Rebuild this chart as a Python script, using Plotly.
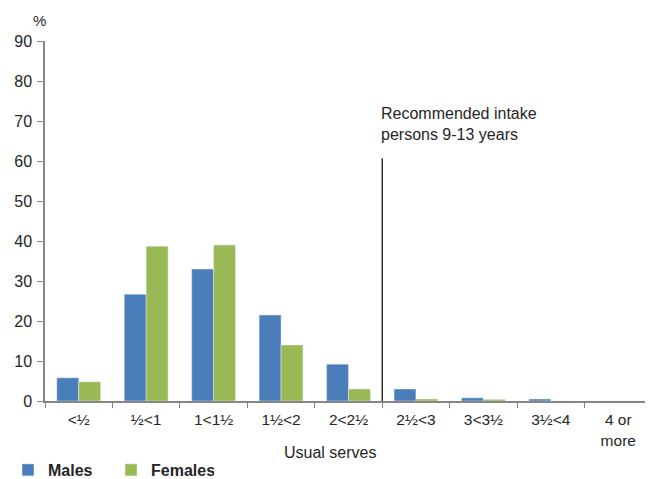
import plotly.graph_objects as go

categories = ["<½", "½<1", "1<1½", "1½<2", "2<2½", "2½<3", "3<3½", "3½<4", "4 or<br>more"]
males = [5.8, 26.7, 33.0, 21.5, 9.2, 3.0, 0.8, 0.5, 0.0]
females = [4.8, 38.7, 39.0, 14.0, 3.0, 0.5, 0.4, 0.0, 0.0]
y_ticks = [0, 10, 20, 30, 40, 50, 60, 70, 80, 90]
recommend_boundary = 4.5
recommend_top = 60.7
recommend_text = "Recommended intake<br>persons 9-13 years"

font_family = "Liberation Sans, Arial, sans-serif"
axis_color = "#868686"
text_color = "#262626"

W, H = 645, 471  # page body has an 8px margin inside the 653x479 window

fig = go.Figure()
fig.add_trace(go.Bar(x=categories, y=males, name="<b>Males</b>", marker_color="#4A7EBB"))
fig.add_trace(go.Bar(x=categories, y=females, name="<b>Females</b>", marker_color="#98B954"))

fig.add_shape(type="line", xref="x", yref="y", x0=recommend_boundary, x1=recommend_boundary,
              y0=0, y1=recommend_top, line=dict(color="black", width=1.2))
fig.add_annotation(xref="x", yref="y", x=recommend_boundary - 0.05, y=recommend_top + 3.3,
                   text=recommend_text, showarrow=False, xanchor="left", yanchor="bottom",
                   align="left", font=dict(size=16, color=text_color, family=font_family))
fig.add_annotation(xref="paper", yref="paper", x=0.0, y=1.0, yshift=10, xshift=3, text="%",
                   showarrow=False, xanchor="right", yanchor="bottom",
                   font=dict(size=15, color=text_color, family=font_family))
fig.add_annotation(xref="paper", yref="paper", x=0.47, y=0.0, yshift=-51, text="Usual serves",
                   showarrow=False, xanchor="center", yanchor="middle",
                   font=dict(size=16, color=text_color, family=font_family))

fig.update_layout(
    width=W, height=H,
    margin=dict(l=37, r=1, t=33, b=78, autoexpand=False),
    paper_bgcolor="white", plot_bgcolor="white",
    barmode="group", bargap=0.35, bargroupgap=0,
    font=dict(family=font_family, color=text_color, size=15),
    showlegend=True,
    legend=dict(orientation="h", xref="container", yref="container",
                x=0.0, y=9 / H, xanchor="left", yanchor="middle",
                font=dict(size=16, color=text_color, family=font_family),
                itemwidth=30, traceorder="normal", entrywidth=58, bgcolor="rgba(0,0,0,0)"),
    xaxis=dict(
        showline=True, linecolor=axis_color, linewidth=1.5,
        ticks="outside", tickson="boundaries", ticklen=5, tickcolor=axis_color,
        showgrid=False, tickfont=dict(size=15.5, color=text_color), automargin=False,
        ticklabelstandoff=4,
    ),
    yaxis=dict(
        range=[0, 90], tickvals=y_ticks, showline=True, linecolor=axis_color, linewidth=1.5,
        ticks="outside", ticklen=6, tickcolor=axis_color, showgrid=False, zeroline=False,
        tickfont=dict(size=16, color=text_color), automargin=False, ticklabelstandoff=2,
    ),
)

fig.write_html("out.html")
